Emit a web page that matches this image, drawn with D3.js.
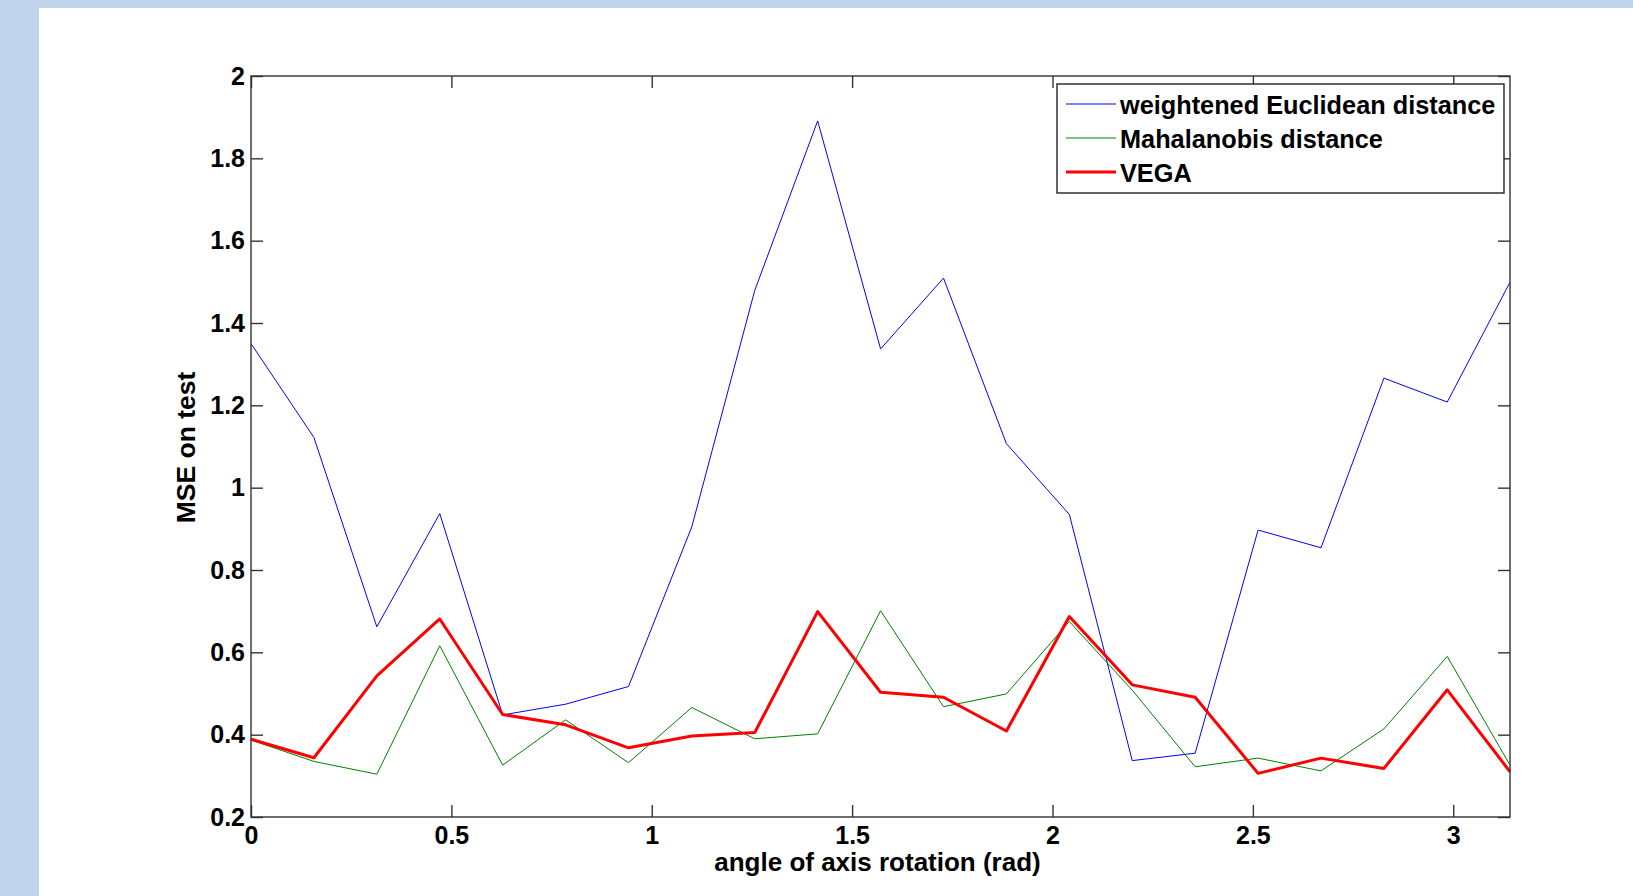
<!DOCTYPE html>
<html>
<head>
<meta charset="utf-8">
<script src="https://cdn.jsdelivr.net/npm/d3@7"></script>
<style>
  html, body { margin: 0; padding: 0; background: #bfd3ea; }
  svg { display: block; }
  text { font-family: "Liberation Sans", Arial, sans-serif; font-weight: bold; }
</style>
</head>
<body>
<svg id="viz"></svg>
<script>
// angle of axis rotation (rad), one point every pi/20
const angles = [0, 0.157, 0.314, 0.471, 0.628, 0.785, 0.942, 1.100, 1.257, 1.414, 1.571,
  1.728, 1.885, 2.042, 2.199, 2.356, 2.513, 2.670, 2.827, 2.985, 3.1416];

const euclidean = [1.350, 1.122, 0.662, 0.937, 0.448, 0.474, 0.517, 0.905, 1.479, 1.891, 1.337,
  1.509, 1.107, 0.935, 0.337, 0.355, 0.897, 0.854, 1.266, 1.208, 1.499];
const mahalanobis = [0.387, 0.335, 0.304, 0.616, 0.326, 0.436, 0.332, 0.466, 0.390, 0.402, 0.701,
  0.468, 0.499, 0.675, 0.508, 0.322, 0.343, 0.312, 0.414, 0.590, 0.326];
const vega = [0.389, 0.344, 0.543, 0.681, 0.449, 0.424, 0.368, 0.397, 0.405, 0.699, 0.503,
  0.491, 0.409, 0.687, 0.521, 0.491, 0.306, 0.343, 0.318, 0.509, 0.310];

const seriesNames = ['weightened Euclidean distance', 'Mahalanobis distance', 'VEGA'];
const xTicks = [0, 0.5, 1, 1.5, 2, 2.5, 3];
const yTicks = [0.2, 0.4, 0.6, 0.8, 1, 1.2, 1.4, 1.6, 1.8, 2];

const W = 1633, H = 896;
const plot = { left: 251, top: 76, right: 1510, bottom: 817 };

const svg = d3.select('#viz').attr('width', W).attr('height', H);

// slide background: blue frame with white panel
svg.append('rect').attr('width', W).attr('height', H).attr('fill', '#bfd3ea');
svg.append('rect').attr('x', 39).attr('y', 8).attr('width', W - 39).attr('height', H - 8).attr('fill', '#fff');

const x = d3.scaleLinear().domain([0, Math.PI]).range([plot.left, plot.right]);
const y = d3.scaleLinear().domain([0.2, 2]).range([plot.bottom, plot.top]);

const series = [
  { name: seriesNames[0], values: euclidean, color: '#0000ff', width: 1 },
  { name: seriesNames[1], values: mahalanobis, color: '#008000', width: 1 },
  { name: seriesNames[2], values: vega, color: '#ff0000', width: 3 }
];

const line = d3.line().x(d => x(d[0])).y(d => y(d[1]));

svg.append('g')
  .selectAll('path')
  .data(series)
  .join('path')
  .attr('fill', 'none')
  .attr('stroke', d => d.color)
  .attr('stroke-width', d => d.width)
  .attr('stroke-linejoin', 'round')
  .attr('d', d => line(angles.map((a, i) => [a, d.values[i]])));

// axes: ticks inside on all four sides
const fmt = d => String(+d.toFixed(1));
const tick = 12;

const styleAxis = g => {
  g.select('.domain').remove();
  g.selectAll('line').attr('stroke', '#333').attr('stroke-width', 1.4);
  g.selectAll('text').attr('fill', '#000').style('font-size', '25px').style('font-family', '"Liberation Sans", Arial, sans-serif').style('font-weight', 'bold');
};

svg.append('g').attr('transform', `translate(0,${plot.bottom})`)
  .call(d3.axisBottom(x).tickValues(xTicks).tickFormat(fmt).tickSize(-tick).tickPadding(9))
  .call(styleAxis);
svg.append('g').attr('transform', `translate(0,${plot.top})`)
  .call(d3.axisTop(x).tickValues(xTicks).tickFormat('').tickSize(-tick))
  .call(styleAxis);
svg.append('g').attr('transform', `translate(${plot.left},0)`)
  .call(d3.axisLeft(y).tickValues(yTicks).tickFormat(fmt).tickSize(-tick).tickPadding(6))
  .call(styleAxis);
svg.append('g').attr('transform', `translate(${plot.right},0)`)
  .call(d3.axisRight(y).tickValues(yTicks).tickFormat('').tickSize(-tick))
  .call(styleAxis);

svg.append('rect')
  .attr('x', plot.left).attr('y', plot.top)
  .attr('width', plot.right - plot.left).attr('height', plot.bottom - plot.top)
  .attr('fill', 'none').attr('stroke', '#333').attr('stroke-width', 1.4);

// axis titles
svg.append('text')
  .attr('x', (plot.left + plot.right) / 2 - 3).attr('y', 871)
  .attr('text-anchor', 'middle').style('font-size', '26px')
  .text('angle of axis rotation (rad)');

svg.append('text')
  .attr('transform', `translate(195,${(plot.top + plot.bottom) / 2 + 1}) rotate(-90)`)
  .attr('text-anchor', 'middle').style('font-size', '26.5px')
  .text('MSE on test');

// legend
const legend = svg.append('g');
legend.append('rect')
  .attr('x', 1057).attr('y', 84).attr('width', 447).attr('height', 109)
  .attr('fill', '#fff').attr('stroke', '#222').attr('stroke-width', 1.4);

series.forEach((s, i) => {
  const cy = 104 + i * 34;
  legend.append('line')
    .attr('x1', 1066).attr('x2', 1116).attr('y1', cy).attr('y2', cy)
    .attr('stroke', s.color).attr('stroke-width', s.width);
  legend.append('text')
    .attr('x', 1120).attr('y', cy + 9.5)
    .style('font-size', '25.3px')
    .text(s.name);
});
</script>
</body>
</html>
